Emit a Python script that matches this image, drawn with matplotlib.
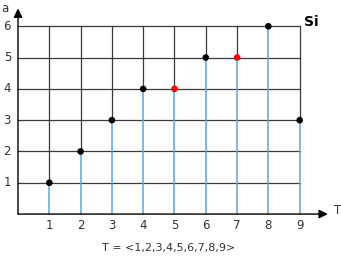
import numpy as np
import matplotlib
matplotlib.use("Agg")
import matplotlib.pyplot as plt

T = [1, 2, 3, 4, 5, 6, 7, 8, 9]
a = [1, 2, 3, 4, 4, 5, 5, 6, 3]
point_colors = ['black', 'black', 'black', 'black', 'red', 'black', 'red', 'black', 'black']
y_ticks = [1, 2, 3, 4, 5, 6]
x_max = 9
y_max = 6

fig = plt.figure(figsize=(3.41, 2.56), dpi=100)
ax = fig.add_axes([0, 0, 1, 1])
ax.set_xlim(-0.575, 10.32)
ax.set_ylim(-1.34, 6.84)
ax.axis('off')

grid_col = '#3a3a3a'
blue = '#5aa5e0'

# horizontal grid lines
for y in y_ticks:
    ax.plot([0, x_max], [y, y], color=grid_col, lw=0.9, zorder=1)

# vertical lines: blue below the point, dark above it
for x, y in zip(T, a):
    ax.plot([x, x], [0, y], color=blue, lw=1.1, zorder=2)
    if y < y_max:
        ax.plot([x, x], [y, y_max], color=grid_col, lw=0.9, zorder=1)

ax.scatter(T, a, c=point_colors, s=14, zorder=4)

# axes with arrows
ax.annotate('', xy=(0, 6.57), xytext=(0, 0),
            arrowprops=dict(arrowstyle='-|>', color='black', lw=1.0,
                            mutation_scale=13, shrinkA=0, shrinkB=0))
ax.annotate('', xy=(9.9, 0), xytext=(0, 0),
            arrowprops=dict(arrowstyle='-|>', color='black', lw=1.0,
                            mutation_scale=13, shrinkA=0, shrinkB=0))

for y in y_ticks:
    ax.text(-0.34, y, str(y), ha='center', va='center', fontsize=8.5, color='#333333')
for x in T:
    ax.text(x, -0.37, str(x), ha='center', va='center', fontsize=8.5, color='#333333')

ax.text(-0.43, 6.58, 'a', ha='center', va='center', fontsize=8.5, color='#333333')
ax.text(10.2, 0.1, 'T', ha='center', va='center', fontsize=8.5, color='#333333')
ax.text(9.15, 6.15, 'Si', ha='left', va='center', fontsize=10, fontweight='bold')

label = 'T = <' + ','.join(str(t) for t in T) + '>'
ax.text(4.8, -1.08, label, ha='center', va='center', fontsize=8, color='#333333')

fig.savefig('out.png', dpi=100)
